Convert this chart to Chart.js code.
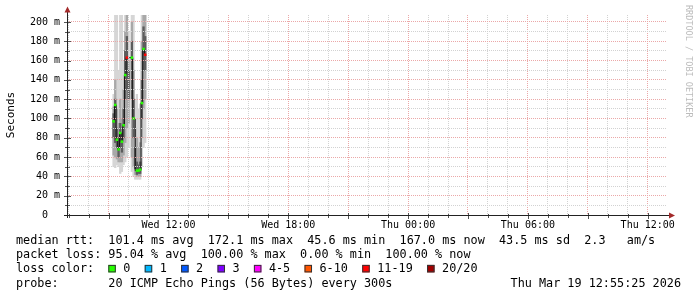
<!DOCTYPE html>
<html><head><meta charset="utf-8">
<script src="https://cdn.jsdelivr.net/npm/chart.js@4/dist/chart.umd.min.js"></script>
<style>html,body{margin:0;padding:0;background:#fff;}canvas{display:block;}</style>
</head><body>
<canvas id="c" width="697" height="297"></canvas>
<script>
// ---------------- data ----------------
const rangeStart = 'Wed 06:55';
const rangeEnd = 'Thu 12:55';
const sampleTimes = ['Wed 09:15','Wed 09:20','Wed 09:25','Wed 09:30','Wed 09:35','Wed 09:40','Wed 09:45','Wed 09:50','Wed 09:55','Wed 10:00',
                     'Wed 10:05','Wed 10:10','Wed 10:15','Wed 10:20','Wed 10:25','Wed 10:30','Wed 10:35','Wed 10:40','Wed 10:45','Wed 10:50'];
const medianRtt   = [97,114,78,68,85,76,93,145,163,null,null,163,100,null,46,46,47,116,172,166];
const medianLossClass = [0,0,0,0,0,0,0,0,6,0,0,0,0,0,0,0,0,0,0,6];
const smokeMin    = [50,49,52,50,43,45,52,55,60,70,null,45,40,37,37,37,37,50,70,75];
const smokeMax    = [125,215,215,150,215,215,160,215,215,190,null,215,215,120,125,110,115,215,215,215];
const smokeLow    = [62,60,58,55,55,55,62,75,90,95,null,60,50,42,40,40,40,80,110,120];
const smokeHigh   = [112,140,110,95,120,100,130,190,215,160,null,200,150,90,80,70,75,180,215,215];
const smokeCoreLow  = [80,75,70,60,70,65,80,120,130,120,null,120,80,48,42,43,43,100,150,150];
const smokeCoreHigh = [105,120,90,80,95,85,110,170,185,150,null,180,120,70,55,52,55,140,195,185];

const yTickValues = [0,10,20,30,40,50,60,70,80,90,100,110,120,130,140,150,160,170,180,190,200];
const yTickLabels = ['0  ','','20 m','','40 m','','60 m','','80 m','','100 m','','120 m','','140 m','','160 m','','180 m','','200 m'];
const xTickTimes  = ['Wed 12:00','Wed 18:00','Thu 00:00','Thu 06:00','Thu 12:00'];
const xTickLabels = ['Wed 12:00','Wed 18:00','Thu 00:00','Thu 06:00','Thu 12:00'];

const lossLabels = ['0','1','2','3','4-5','6-10','11-19','20/20'];
const lossColors = ['#26ff00','#00b8ff','#0059ff','#7e00ff','#ff00ff','#ff5500','#ff0000','#a10000'];

const lineRtt   = 'median rtt:  101.4 ms avg  172.1 ms max  45.6 ms min  167.0 ms now  43.5 ms sd  2.3   am/s';
const lineLoss  = 'packet loss: 95.04 % avg  100.00 % max  0.00 % min  100.00 % now';
const lineColorTitle = 'loss color:';
const lineProbe = 'probe:       20 ICMP Echo Pings (56 Bytes) every 300s';
const lineDate  = 'Thu Mar 19 12:55:25 2026';
const watermark = 'RRDTOOL / TOBI OETIKER';
const yTitle = 'Seconds';

// ---------------- helpers ----------------
const MONO = '"DejaVu Sans Mono", "Liberation Mono", monospace';
function toHours(s){ const p = s.split(' '); const hm = p[1].split(':').map(Number); return (p[0]==='Thu'?24:0) + hm[0] + hm[1]/60; }
const tx = sampleTimes.map(toHours);
const xTickHours = xTickTimes.map(toHours);
const tMin = toHours(rangeStart), tMax = toHours(rangeEnd);
const xGridHours = []; for (let h = Math.ceil(tMin); h <= tMax; h++) xGridHours.push(h);
function band(lo, hi){ const out=[]; tx.forEach((x,i)=>{ if(lo[i]!=null && hi[i]!=null) out.push({x, y:[lo[i],hi[i]]}); }); return out; }

const MAJOR = '#eba8a8';
const MINOR = '#d2d2d2';

const decor = {
  id:'decor',
  afterDraw(chart){
    const ctx = chart.ctx, ca = chart.chartArea, xs = chart.scales.x, ys = chart.scales.y;
    ctx.save();
    // tick marks
    ctx.strokeStyle = '#555'; ctx.lineWidth = 1;
    ctx.beginPath();
    yTickValues.forEach(v=>{ const y = Math.round(ys.getPixelForValue(v))+0.5; const big = v%20===0; ctx.moveTo(big?64:65, y); ctx.lineTo(big?71:70, y); });
    xGridHours.forEach(h=>{ const x = Math.round(xs.getPixelForValue(h))+0.5; const big = h%3===0; ctx.moveTo(x, ca.bottom-(big?2:1)); ctx.lineTo(x, ca.bottom+(big?4:3)); });
    ctx.stroke();
    // axes
    ctx.strokeStyle = '#222';
    ctx.beginPath();
    ctx.moveTo(ca.left-3, ca.bottom+0.5); ctx.lineTo(ca.right+4, ca.bottom+0.5);
    ctx.moveTo(ca.left+0.5, ca.bottom+3); ctx.lineTo(ca.left+0.5, ca.top-3);
    ctx.stroke();
    // arrows
    ctx.fillStyle = '#a32a2a';
    ctx.beginPath(); ctx.moveTo(ca.right+3, ca.bottom-2.5); ctx.lineTo(ca.right+9, ca.bottom+0.5); ctx.lineTo(ca.right+3, ca.bottom+3.5); ctx.closePath(); ctx.fill();
    ctx.beginPath(); ctx.moveTo(ca.left-2.5, ca.top-2.5); ctx.lineTo(ca.left+0.5, ca.top-8.5); ctx.lineTo(ca.left+3.5, ca.top-2.5); ctx.closePath(); ctx.fill();
    // legend text
    const f = '11.8px ' + MONO;
    ctx.font = f; ctx.fillStyle = '#000'; ctx.textBaseline = 'alphabetic'; ctx.textAlign = 'left';
    const lx = 16, b1 = 244, dy = 14.2;
    ctx.fillText(lineRtt, lx, b1);
    ctx.fillText(lineLoss, lx, b1+dy);
    ctx.fillText(lineColorTitle, lx, b1+2*dy);
    ctx.fillText(lineProbe, lx, b1+3*dy);
    ctx.textAlign = 'right';
    ctx.fillText(lineDate, 681, b1+3*dy);
    ctx.textAlign = 'left';
    const cw = ctx.measureText('0').width;
    let bx = 108.3; const by = b1+2*dy-7.5;
    lossLabels.forEach((lab,i)=>{
      ctx.fillStyle = lossColors[i]; ctx.fillRect(bx, by, 7.5, 7.5);
      ctx.strokeStyle = '#333'; ctx.strokeRect(bx+0.5, by+0.5, 6.5, 6.5);
      ctx.fillStyle = '#000'; ctx.fillText(lab, bx+15, b1+2*dy);
      bx = bx + 15 + lab.length*cw + 14.3;
    });
    // watermark
    ctx.translate(688, 5); ctx.rotate(Math.PI/2);
    ctx.font = '8.5px ' + MONO; ctx.fillStyle = '#bcbcbc'; ctx.textBaseline = 'middle';
    ctx.fillText(watermark, 0, 0);
    ctx.restore();
  }
};

new Chart(document.getElementById('c'), {
  type:'bar',
  data:{ datasets:[
    {type:'bar', data: band(smokeMin, smokeMax), backgroundColor:'#d6d6d6', grouped:false, barPercentage:1, categoryPercentage:1, borderWidth:0, order:3},
    {type:'bar', data: band(smokeLow, smokeHigh), backgroundColor:'#a8a8a8', grouped:false, barPercentage:1, categoryPercentage:1, borderWidth:0, order:2},
    {type:'bar', data: band(smokeCoreLow, smokeCoreHigh), backgroundColor:'#5c5c5c', grouped:false, barPercentage:1, categoryPercentage:1, borderWidth:0, order:1},
    {type:'line', data: tx.map((x,i)=>({x, y: medianRtt[i]})), borderColor:'#111', borderWidth:1, stepped:'middle', spanGaps:true,
      pointStyle:'rect', pointRadius:1.8, pointBorderWidth:0, pointBackgroundColor: tx.map((x,i)=>lossColors[medianLossClass[i]]), order:0}
  ]},
  options:{
    responsive:false, devicePixelRatio:1, animation:false, events:[],
    layout:{ padding:{ left:0, right:31, top:15, bottom:0 } },
    plugins:{ legend:{display:false}, tooltip:{enabled:false}, title:{display:false} },
    scales:{
      x:{ type:'linear', min:tMin, max:tMax, offset:false,
        afterBuildTicks: s => { s.ticks = xGridHours.map(v=>({value:v})); },
        afterFit: s => { s.height = 82; },
        ticks:{ autoSkip:false, maxRotation:0, minRotation:0, padding:4, color:'#000', font:{family:MONO, size:10},
          callback: v => { const k = xTickHours.findIndex(h=>Math.abs(h-v)<1e-6); return k>=0 ? xTickLabels[k] : ''; } },
        grid:{ offset:false, drawTicks:false, z:1, lineWidth:1, color: c => (c.tick && c.tick.value%3===0) ? MAJOR : MINOR },
        border:{ display:false, dash:[1,1] }
      },
      y:{ type:'linear', min:0, max:207.2,
        afterBuildTicks: s => { s.ticks = yTickValues.map(v=>({value:v})); },
        afterFit: s => { s.width = 67; },
        ticks:{ autoSkip:false, padding:7, color:'#000', font:{family:MONO, size:10}, callback:(v,i)=>yTickLabels[i] },
        title:{ display:true, text:yTitle, color:'#000', font:{family:MONO, size:11}, padding:{top:4.4, bottom:0} },
        grid:{ drawTicks:false, z:1, lineWidth:1, color: c => (c.tick && c.tick.value%20===0) ? MAJOR : MINOR },
        border:{ display:false, dash:[1,1] }
      }
    }
  },
  plugins:[decor]
});
</script>
</body></html>
